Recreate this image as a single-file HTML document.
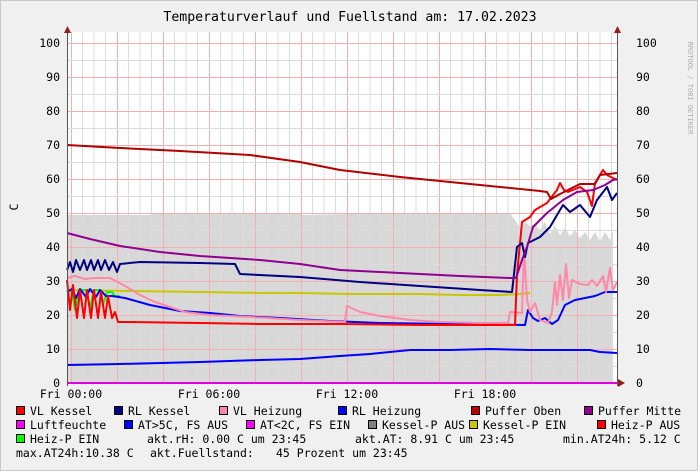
<!DOCTYPE html>
<html><head><meta charset="utf-8"><style>
body{margin:0;background:#f0f0f0}
svg{display:block}
text{font-family:"DejaVu Sans Mono","Liberation Mono",monospace;fill:#000;white-space:pre}
</style></head><body>
<svg width="698" height="471" viewBox="0 0 698 471">
<defs>
<pattern id="gv" patternUnits="userSpaceOnUse" x="71" y="0" width="46" height="471">
<line x1="11.5" y1="0" x2="11.5" y2="471" stroke="#dcdcdc" stroke-width="1"/>
<line x1="23" y1="0" x2="23" y2="471" stroke="#dcdcdc" stroke-width="1"/>
<line x1="34.5" y1="0" x2="34.5" y2="471" stroke="#dcdcdc" stroke-width="1"/>
<line x1="0.5" y1="0" x2="0.5" y2="471" stroke="#f2b0b0" stroke-width="1"/>
</pattern>
<pattern id="gh" patternUnits="userSpaceOnUse" x="0" y="43" width="698" height="34">
<line x1="0" y1="17.5" x2="698" y2="17.5" stroke="#dcdcdc" stroke-width="1"/>
<line x1="0" y1="0.5" x2="698" y2="0.5" stroke="#f2b0b0" stroke-width="1"/>
</pattern>
</defs>
<rect x="0.5" y="0.5" width="697" height="470" fill="#f0f0f0" stroke="#c8c8c8"/>
<rect x="67" y="32" width="550" height="351" fill="#fff"/>
<path d="M67,383 L67,215 L150,215 L151,214 L300,214 L302,215 L400,213 L510,213 L515,220 L520,228 L525,222 L530,226 L535,224 L540,230 L545,222 L550,234 L555,226 L560,235 L565,228 L570,236 L575,230 L580,238 L585,232 L590,240 L595,232 L600,242 L605,232 L610,240 L613,230 L613,383 Z" fill="#d8d8d8"/>
<rect x="67" y="32" width="550" height="351" fill="url(#gv)"/>
<rect x="67" y="32" width="550" height="351" fill="url(#gh)"/>
<g fill="none" stroke-width="2" stroke-linejoin="round">
<polyline stroke="#0000ff" points="67,365 120,364 200,362 260,360 300,359 340,356 370,354 410,350 450,350 490,349 530,350 560,350 590,350 600,352 617,353"/>
<polyline stroke="#c8c800" points="67,290 130,291 200,292 260,293 300,293 350,294 420,294 460,295 500,295 520,294 530,293"/>
<polyline stroke="#00ff00" points="67,290 72,291 75,310 79,290 86,290 90,308 94,290 100,290 103,305 107,292 112,292 115,296 120,296 M525,330 527,296 540,293 560,290 590,289 617,288"/>
<polyline stroke="#0000ff" points="67,292 72,289 76,298 80,289 86,297 90,289 96,297 100,290 106,296 112,296 125,298 150,305 180,311 210,313 240,316 280,318 330,321 380,323 450,324 525,325 528,310 533,318 538,321 545,318 552,324 558,320 565,305 575,300 585,298 595,296 605,292 617,292"/>
<polyline stroke="#ff88a8" points="67,278 75,276 85,279 95,278 110,278 125,286 140,295 155,302 170,307 185,312 210,315 250,317 300,320 345,322 347,306 360,312 380,316 410,320 440,322 480,323 508,323 510,312 522,313 524,250 527,300 530,312 535,303 540,320 548,323 552,312 555,282 557,305 560,275 563,300 566,264 569,298 572,280 580,284 588,285 592,280 597,286 603,276 606,292 610,268 613,290 617,282"/>
<polyline stroke="#ff0000" points="67,280 70,310 73,285 77,318 80,290 84,318 87,290 91,318 94,290 98,318 101,292 105,318 108,296 112,318 115,312 118,322 130,322 200,323 260,324 340,324 420,325 515,325 517,275 522,222 530,217 535,210 547,203 557,190 560,183 564,190 568,192 580,187 587,192 592,206 595,183 600,175 603,170 607,175 617,180"/>
<polyline stroke="#000080" points="67,270 70,262 73,272 76,260 80,270 84,260 87,270 91,260 94,270 98,260 101,270 105,260 109,270 113,262 117,272 120,264 140,262 200,263 235,264 240,274 300,277 360,282 420,286 480,290 512,292 517,247 522,243 525,257 528,243 540,237 550,227 557,215 563,205 570,212 580,205 590,217 597,200 607,187 612,200 617,193"/>
<polyline stroke="#900090" points="67,233 90,239 120,246 160,252 200,256 260,260 300,264 340,270 400,273 460,276 510,278 516,278 522,260 527,247 533,227 547,213 563,200 577,192 593,190 605,185 613,180 617,179"/>
<polyline stroke="#b00000" points="67,145 120,148 180,151 250,155 300,162 340,170 400,177 460,183 500,187 540,191 547,192 551,199 560,194 580,184 595,184 600,175 617,173"/>
<line x1="67" y1="383" x2="617" y2="383" stroke="#e000e0"/>
</g>
<line x1="67.5" y1="30" x2="67.5" y2="386" stroke="#555"/>
<line x1="617.5" y1="30" x2="617.5" y2="386" stroke="#555"/>
<polygon points="64,33 71,33 67.5,26" fill="#902020"/>
<polygon points="614,33 621,33 617.5,26" fill="#902020"/>
<polygon points="618,379 618,387 625,383" fill="#902020"/>
<g font-size="11.5">
<text x="60" y="47" text-anchor="end">100</text>
<text x="60" y="81" text-anchor="end">90</text>
<text x="60" y="115" text-anchor="end">80</text>
<text x="60" y="149" text-anchor="end">70</text>
<text x="60" y="183" text-anchor="end">60</text>
<text x="60" y="217" text-anchor="end">50</text>
<text x="60" y="251" text-anchor="end">40</text>
<text x="60" y="285" text-anchor="end">30</text>
<text x="60" y="319" text-anchor="end">20</text>
<text x="60" y="353" text-anchor="end">10</text>
<text x="60" y="387" text-anchor="end">0</text>
<text x="636" y="47">100</text>
<text x="636" y="81">90</text>
<text x="636" y="115">80</text>
<text x="636" y="149">70</text>
<text x="636" y="183">60</text>
<text x="636" y="217">50</text>
<text x="636" y="251">40</text>
<text x="636" y="285">30</text>
<text x="636" y="319">20</text>
<text x="636" y="353">10</text>
<text x="636" y="387">0</text>
<text x="71" y="398" text-anchor="middle">Fri 00:00</text>
<text x="209" y="398" text-anchor="middle">Fri 06:00</text>
<text x="347" y="398" text-anchor="middle">Fri 12:00</text>
<text x="485" y="398" text-anchor="middle">Fri 18:00</text>
<text x="18" y="207" transform="rotate(-90 18 207)" text-anchor="middle">C</text>
</g>
<text x="350" y="21" font-size="13.2" text-anchor="middle">Temperaturverlauf und Fuellstand am: 17.02.2023</text>
<text x="688" y="88" font-size="7" style="fill:#b0b0b0" transform="rotate(90 688 88)" text-anchor="middle">RRDTOOL / TOBI OETIKER</text>
<g font-size="11.5">
<g stroke="#000" stroke-width="1">
<rect x="16.5" y="406.5" width="8" height="8" fill="#ff0000"/>
<rect x="114.5" y="406.5" width="8" height="8" fill="#000080"/>
<rect x="219.5" y="406.5" width="8" height="8" fill="#ff88a8"/>
<rect x="338.5" y="406.5" width="8" height="8" fill="#0000ff"/>
<rect x="471.5" y="406.5" width="8" height="8" fill="#c00000"/>
<rect x="584.5" y="406.5" width="8" height="8" fill="#900090"/>
<rect x="16.5" y="420.5" width="8" height="8" fill="#ff00ff"/>
<rect x="124.5" y="420.5" width="8" height="8" fill="#0000ff"/>
<rect x="246.5" y="420.5" width="8" height="8" fill="#ff00ff"/>
<rect x="368.5" y="420.5" width="8" height="8" fill="#808080"/>
<rect x="469.5" y="420.5" width="8" height="8" fill="#c8c800"/>
<rect x="597.5" y="420.5" width="8" height="8" fill="#ff0000"/>
<rect x="16.5" y="434.5" width="8" height="8" fill="#00ff00"/>
</g>
<text x="30" y="415">VL Kessel</text>
<text x="128" y="415">RL Kessel</text>
<text x="233" y="415">VL Heizung</text>
<text x="352" y="415">RL Heizung</text>
<text x="485" y="415">Puffer Oben</text>
<text x="598" y="415">Puffer Mitte</text>
<text x="30" y="429">Luftfeuchte</text>
<text x="138" y="429">AT&gt;5C, FS AUS</text>
<text x="260" y="429">AT&lt;2C, FS EIN</text>
<text x="382" y="429">Kessel-P AUS</text>
<text x="483" y="429">Kessel-P EIN</text>
<text x="611" y="429">Heiz-P AUS</text>
<text x="30" y="443">Heiz-P EIN</text>
<text x="147" y="443">akt.rH: 0.00 C um 23:45</text>
<text x="355" y="443">akt.AT: 8.91 C um 23:45</text>
<text x="563" y="443">min.AT24h: 5.12 C</text>
<text x="16" y="457">max.AT24h:10.38 C</text>
<text x="150" y="457">akt.Fuellstand:</text>
<text x="276" y="457">45 Prozent um 23:45</text>
</g>
</svg>
</body></html>
